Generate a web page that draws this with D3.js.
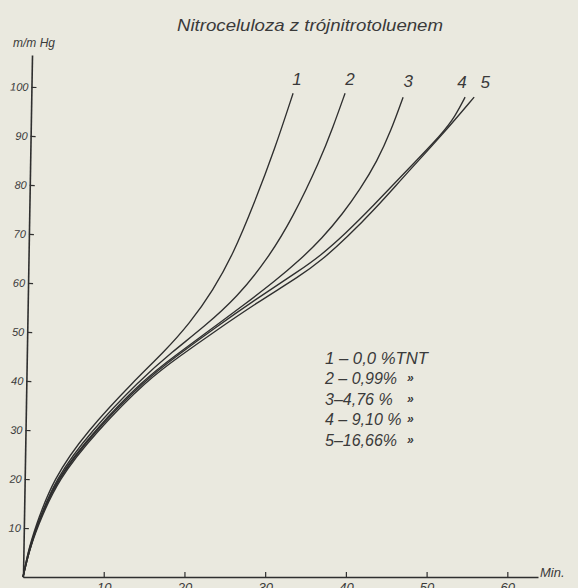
<!DOCTYPE html>
<html>
<head>
<meta charset="utf-8">
<script src="https://cdn.jsdelivr.net/npm/d3@7"></script>
<style>
  html, body { margin: 0; padding: 0; background: #eae9df; }
  svg { display: block; }
  text { font-family: "Liberation Sans Narrow", "Liberation Sans", "DejaVu Sans", sans-serif; font-style: italic; fill: #3a3a3a; }
</style>
</head>
<body>
<svg id="chart" width="578" height="588"></svg>
<script>
// ---- data ----
const title = "Nitroceluloza z trójnitrotoluenem";
const yLabel = "m/m Hg";
const xLabel = "Min.";
const xTicks = [10, 20, 30, 40, 50, 60];
const yTicks = [10, 20, 30, 40, 50, 60, 70, 80, 90, 100];
const curveNames = ["1", "2", "3", "4", "5"];
const legendLabels = ["1 – 0,0 %TNT", "2 – 0,99%", "3–4,76 %", "4 – 9,10 %", "5–16,66%"];
const legendDitto = ["", "»", "»", "»", "»"];

// time (min) and pressure (mm Hg) per curve
const t1 = [0, 0.62, 1.49, 3.72, 7.93, 13.88, 17.35, 20.69, 23.54, 26.02, 28.62, 31.23, 33.46];
const p1 = [0, 5.1, 10.0, 20.0, 29.8, 40.2, 45.7, 51.8, 58.5, 65.8, 76.1, 87.5, 98.7];
const t2 = [0, 0.62, 1.61, 3.97, 8.43, 14.5, 18.46, 22.55, 26.52, 30.24, 33.46, 36.8, 38.41, 39.9];
const p2 = [0, 5.1, 10.0, 20.0, 29.8, 40.2, 45.9, 51.2, 57.1, 64.7, 73.4, 85.0, 91.8, 98.7];
const t3 = [0, 0.74, 1.61, 4.09, 8.8, 14.87, 18.96, 23.17, 27.51, 31.23, 34.32, 37.05, 39.65, 41.76, 43.87, 45.6, 47.09];
const p3 = [0, 5.1, 10.0, 20.0, 29.8, 40.2, 45.3, 50.4, 55.7, 60.4, 64.7, 69.1, 74.2, 79.1, 84.8, 91.1, 97.9];
const t4 = [0, 0.74, 1.61, 4.21, 8.92, 15.12, 19.21, 23.42, 28.87, 34.32, 36.8, 39.9, 43.37, 47.34, 52.04, 53.53, 54.77];
const p4 = [0, 5.1, 10.0, 20.0, 29.8, 40.2, 45.3, 50.4, 56.7, 62.6, 65.5, 70.0, 75.7, 82.6, 90.6, 94.0, 97.9];
const t5 = [0, 0.74, 1.73, 4.34, 9.17, 15.37, 19.45, 23.67, 29.12, 34.32, 37.05, 40.15, 43.62, 47.34, 52.04, 55.89];
const p5 = [0, 5.1, 10.0, 20.0, 29.8, 40.2, 45.1, 50.0, 56.1, 61.4, 64.7, 69.3, 75.1, 82.0, 90.4, 97.9];

const seriesT = [t1, t2, t3, t4, t5];
const seriesP = [p1, p2, p3, p4, p5];

// ---- layout ----
const svg = d3.select("#chart");
const x0 = 23, y0 = 577;
const x = d3.scaleLinear().domain([0, 63.8]).range([x0, 538]);
const y = d3.scaleLinear().domain([0, 106.5]).range([y0, 55]);
const ink = "#2f2f2f";

// title
svg.append("text")
  .attr("x", 310).attr("y", 31)
  .attr("text-anchor", "middle")
  .attr("font-size", 17)
  .attr("textLength", 266).attr("lengthAdjust", "spacingAndGlyphs")
  .text(title);

// y axis (the hand-drawn axis leans slightly)
const gy = svg.append("g")
  .attr("transform", `rotate(0.99, ${x0}, ${y0}) translate(${x0},0)`)
  .call(d3.axisLeft(y).tickValues(yTicks).tickSizeInner(-5).tickSizeOuter(0).tickPadding(3));
gy.select(".domain").attr("stroke", ink).attr("stroke-width", 1.6);
gy.selectAll(".tick line").attr("stroke", ink).attr("stroke-width", 1.2);
gy.selectAll(".tick text").attr("font-size", 11).attr("fill", "#3a3a3a")
  .style("font-family", '"Liberation Sans Narrow", "Liberation Sans", sans-serif').style("font-style", "italic");

svg.append("text").attr("x", 13).attr("y", 47).attr("font-size", 12).text(yLabel);

// x axis
const gx = svg.append("g")
  .attr("transform", `translate(0,${y0})`)
  .call(d3.axisBottom(x).tickValues(xTicks).tickSizeInner(-5).tickSizeOuter(0).tickPadding(6));
gx.select(".domain").attr("stroke", ink).attr("stroke-width", 1.6);
gx.selectAll(".tick line").attr("stroke", ink).attr("stroke-width", 1.2);
gx.selectAll(".tick text").attr("font-size", 13).attr("fill", "#3a3a3a")
  .style("font-family", '"Liberation Sans Narrow", "Liberation Sans", sans-serif').style("font-style", "italic");

svg.append("text").attr("x", 540).attr("y", 577).attr("font-size", 13).text(xLabel);

// curves
const line = d3.line()
  .x(d => x(d[0])).y(d => y(d[1]))
  .curve(d3.curveBasis);

seriesT.forEach((ts, i) => {
  const pts = ts.map((t, j) => [t, seriesP[i][j]]);
  svg.append("path")
    .attr("d", line(pts))
    .attr("fill", "none")
    .attr("stroke", ink)
    .attr("stroke-width", 1.35);
});

// curve number labels above the top ends
const labelDx = [4, 5, 5, -3, 11];
const labelDy = [-8, -8, -10, -9, -9];
seriesT.forEach((ts, i) => {
  const n = ts.length - 1;
  svg.append("text")
    .attr("x", x(ts[n]) + labelDx[i])
    .attr("y", y(seriesP[i][n]) + labelDy[i])
    .attr("text-anchor", "middle")
    .attr("font-size", 17)
    .text(curveNames[i]);
});

// legend
const legend = svg.append("g").attr("transform", "translate(325,364)");
legendLabels.forEach((s, i) => {
  const row = legend.append("g").attr("transform", `translate(0,${i * 20.4})`);
  const tx = row.append("text").attr("x", 0).attr("y", 0).attr("font-size", 16).text(s);
  if (i === 0) tx.attr("textLength", 103).attr("lengthAdjust", "spacingAndGlyphs");
  if (legendDitto[i]) {
    row.append("text").attr("x", 82).attr("y", -2).attr("font-size", 12)
      .attr("font-weight", "bold").attr("fill", "#2f2f2f").text(legendDitto[i]);
  }
});
</script>
</body>
</html>
